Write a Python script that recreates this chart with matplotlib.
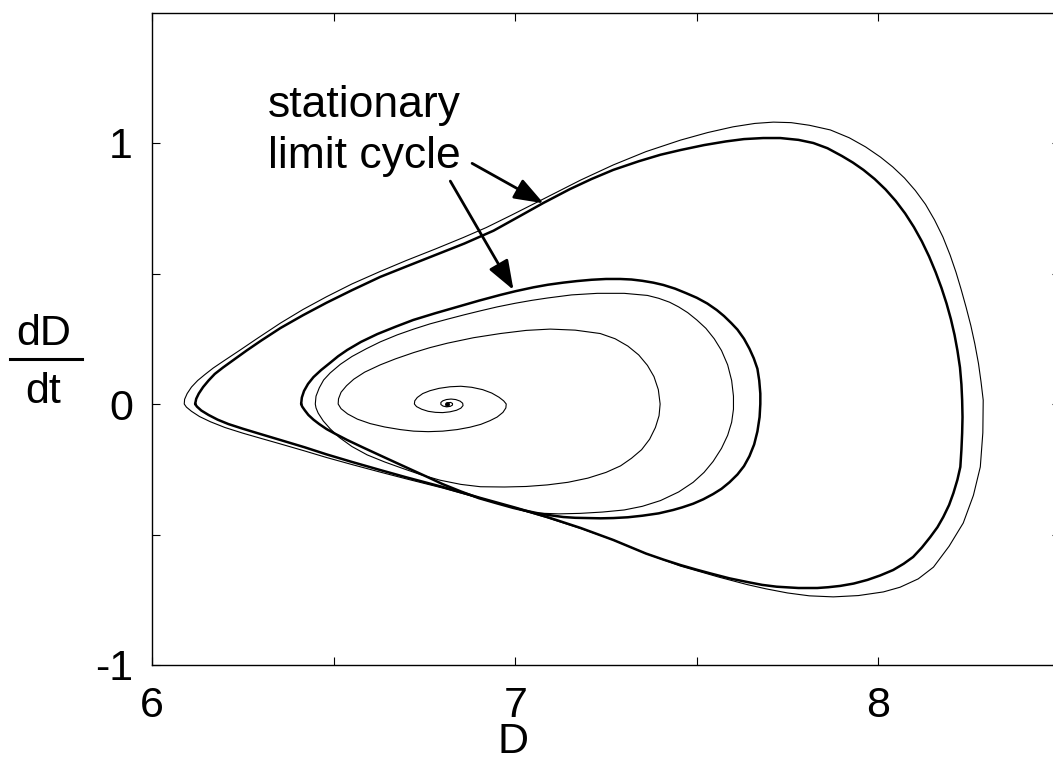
import matplotlib.pyplot as plt
from matplotlib.lines import Line2D

plt.rcParams['font.family'] = ['Liberation Sans', 'DejaVu Sans']

# stationary limit cycle, large amplitude (clockwise from the left tip)
outer_x = [6.118, 6.121, 6.128, 6.140, 6.155, 6.172, 6.195, 6.225, 6.260, 6.300,
           6.353, 6.415, 6.480, 6.550, 6.628, 6.700, 6.780, 6.860, 6.940, 7.010,
           7.077, 7.150, 7.210, 7.270, 7.340, 7.400, 7.455, 7.520, 7.580, 7.630,
           7.683, 7.730, 7.780, 7.821, 7.860, 7.900, 7.930, 7.959, 7.990, 8.020,
           8.048, 8.074, 8.098, 8.120, 8.140, 8.158, 8.174, 8.188, 8.200, 8.210,
           8.218, 8.225, 8.229, 8.231, 8.232, 8.231, 8.229, 8.226, 8.218, 8.207,
           8.195, 8.179, 8.163, 8.143, 8.120, 8.096, 8.070, 8.041, 8.005, 7.970,
           7.932, 7.895, 7.862, 7.832, 7.780, 7.720, 7.680, 7.639, 7.590, 7.540,
           7.500, 7.455, 7.410, 7.360, 7.315, 7.270, 7.180, 7.088, 7.000, 6.904,
           6.800, 6.700, 6.628, 6.550, 6.480, 6.420, 6.353, 6.300, 6.250, 6.210,
           6.180, 6.155, 6.135, 6.123, 6.118]
outer_y = [0.000, 0.020, 0.040, 0.065, 0.090, 0.115, 0.140, 0.170, 0.205, 0.243,
           0.291, 0.340, 0.388, 0.436, 0.487, 0.527, 0.571, 0.615, 0.664, 0.718,
           0.770, 0.823, 0.862, 0.897, 0.930, 0.955, 0.973, 0.992, 1.006, 1.015,
           1.019, 1.019, 1.012, 1.000, 0.980, 0.950, 0.925, 0.897, 0.862, 0.822,
           0.778, 0.730, 0.678, 0.623, 0.565, 0.505, 0.445, 0.385, 0.325, 0.265,
           0.205, 0.140, 0.075, 0.015, -0.050, -0.111, -0.175, -0.241, -0.290, -0.341,
           -0.387, -0.433, -0.472, -0.510, -0.550, -0.586, -0.612, -0.636, -0.657, -0.674,
           -0.688, -0.697, -0.702, -0.705, -0.705, -0.700, -0.693, -0.682, -0.668, -0.650,
           -0.635, -0.617, -0.597, -0.573, -0.547, -0.521, -0.475, -0.433, -0.397, -0.360,
           -0.318, -0.281, -0.253, -0.222, -0.193, -0.166, -0.138, -0.116, -0.095, -0.077,
           -0.060, -0.042, -0.025, -0.010, 0.000]

# first turn before settling on the large cycle
outer_first_x = [7.270, 7.180, 7.088, 7.000, 6.904, 6.800, 6.700, 6.628, 6.550, 6.480,
                 6.420, 6.353, 6.300, 6.250, 6.200, 6.160, 6.130, 6.108, 6.094, 6.088,
                 6.089, 6.096, 6.108, 6.125, 6.145, 6.168, 6.200, 6.240, 6.290, 6.353,
                 6.415, 6.480, 6.550, 6.628, 6.700, 6.780, 6.857, 6.920, 6.990, 7.088,
                 7.180, 7.270, 7.360, 7.455, 7.530, 7.600, 7.660, 7.711, 7.760, 7.810,
                 7.868, 7.920, 7.965, 8.006, 8.040, 8.072, 8.102, 8.130, 8.155, 8.178,
                 8.198, 8.214, 8.228, 8.242, 8.255, 8.266, 8.276, 8.283, 8.289, 8.288,
                 8.281, 8.262, 8.234, 8.195, 8.152, 8.110, 8.060, 8.014, 7.945, 7.876,
                 7.810, 7.750, 7.690, 7.639, 7.560, 7.455, 7.360, 7.270]
outer_first_y = [-0.521, -0.477, -0.436, -0.400, -0.362, -0.322, -0.287, -0.261, -0.232, -0.205,
                 -0.180, -0.153, -0.132, -0.112, -0.090, -0.068, -0.048, -0.028, -0.012, 0.000,
                 0.018, 0.040, 0.065, 0.090, 0.113, 0.138, 0.168, 0.205, 0.252, 0.310,
                 0.362, 0.411, 0.460, 0.508, 0.550, 0.594, 0.638, 0.676, 0.724, 0.793,
                 0.858, 0.916, 0.967, 1.011, 1.040, 1.062, 1.075, 1.080, 1.078, 1.068,
                 1.050, 1.020, 0.985, 0.946, 0.908, 0.866, 0.818, 0.765, 0.705, 0.640,
                 0.570, 0.505, 0.440, 0.370, 0.300, 0.230, 0.155, 0.085, 0.015, -0.110,
                 -0.241, -0.350, -0.456, -0.545, -0.625, -0.670, -0.702, -0.720, -0.734, -0.739,
                 -0.735, -0.724, -0.708, -0.692, -0.663, -0.621, -0.573, -0.521]

# stationary limit cycle, small amplitude
inner_x = [6.410, 6.412, 6.418, 6.429, 6.444, 6.465, 6.490, 6.512, 6.537, 6.575,
           6.620, 6.670, 6.719, 6.780, 6.840, 6.900, 6.959, 7.000, 7.050, 7.090,
           7.132, 7.170, 7.210, 7.250, 7.289, 7.320, 7.350, 7.380, 7.408, 7.440,
           7.470, 7.500, 7.529, 7.555, 7.575, 7.595, 7.612, 7.630, 7.645, 7.657,
           7.667, 7.672, 7.675, 7.675, 7.673, 7.667, 7.658, 7.645, 7.630, 7.612,
           7.590, 7.568, 7.545, 7.518, 7.490, 7.460, 7.435, 7.395, 7.350, 7.310,
           7.270, 7.235, 7.200, 7.165, 7.132, 7.095, 7.060, 7.025, 6.994, 6.950,
           6.900, 6.850, 6.800, 6.760, 6.719, 6.670, 6.620, 6.578, 6.537, 6.505,
           6.480, 6.460, 6.444, 6.430, 6.420, 6.413, 6.410]
inner_y = [0.000, 0.025, 0.050, 0.077, 0.103, 0.130, 0.158, 0.183, 0.207, 0.238,
           0.268, 0.296, 0.322, 0.348, 0.372, 0.396, 0.418, 0.432, 0.447, 0.457,
           0.465, 0.471, 0.476, 0.479, 0.479, 0.477, 0.472, 0.465, 0.456, 0.442,
           0.425, 0.407, 0.385, 0.360, 0.337, 0.310, 0.285, 0.250, 0.212, 0.175,
           0.135, 0.090, 0.040, 0.000, -0.050, -0.105, -0.155, -0.200, -0.238, -0.270,
           -0.300, -0.325, -0.345, -0.365, -0.382, -0.396, -0.406, -0.419, -0.428, -0.434,
           -0.437, -0.438, -0.437, -0.436, -0.433, -0.426, -0.418, -0.408, -0.398, -0.381,
           -0.361, -0.335, -0.307, -0.281, -0.255, -0.224, -0.192, -0.165, -0.138, -0.115,
           -0.096, -0.077, -0.060, -0.042, -0.024, -0.010, 0.000]

# trajectory spiralling out of the fixed point onto the small cycle
spiral_x = [6.812, 6.816, 6.822, 6.827, 6.827, 6.821, 6.811, 6.801, 6.795, 6.795,
            6.800, 6.810, 6.823, 6.836, 6.848, 6.855, 6.856, 6.850, 6.838, 6.820,
            6.800, 6.780, 6.760, 6.742, 6.728, 6.722, 6.723, 6.730, 6.745, 6.765,
            6.790, 6.820, 6.850, 6.880, 6.910, 6.935, 6.955, 6.968, 6.975, 6.974,
            6.966, 6.950, 6.930, 6.905, 6.875, 6.840, 6.800, 6.760, 6.720, 6.683,
            6.640, 6.600, 6.565, 6.538, 6.520, 6.512, 6.513, 6.520, 6.535, 6.555,
            6.585, 6.628, 6.670, 6.720, 6.765, 6.813, 6.885, 6.959, 7.030, 7.096,
            7.165, 7.234, 7.275, 7.310, 7.340, 7.364, 7.382, 7.394, 7.399, 7.396,
            7.386, 7.370, 7.348, 7.320, 7.290, 7.250, 7.200, 7.145, 7.088, 7.030,
            6.970, 6.904, 6.850, 6.793, 6.740, 6.690, 6.640, 6.592, 6.550, 6.515,
            6.490, 6.471, 6.457, 6.451, 6.449, 6.451, 6.460, 6.472, 6.490, 6.518,
            6.550, 6.590, 6.628, 6.675, 6.720, 6.765, 6.813, 6.860, 6.904, 6.950,
            7.000, 7.045, 7.088, 7.155, 7.226, 7.300, 7.364, 7.395, 7.425, 7.450,
            7.475, 7.500, 7.525, 7.548, 7.568, 7.585, 7.596, 7.601, 7.601, 7.596,
            7.585, 7.568, 7.545, 7.520, 7.490, 7.450, 7.400, 7.350, 7.300, 7.240,
            7.179, 7.120, 7.060]
spiral_y = [0.000, 0.005, 0.006, 0.002, -0.004, -0.009, -0.011, -0.008, -0.002, 0.006,
            0.012, 0.017, 0.019, 0.017, 0.011, 0.003, -0.006, -0.016, -0.024, -0.030,
            -0.033, -0.032, -0.028, -0.020, -0.010, 0.000, 0.012, 0.025, 0.040, 0.051,
            0.060, 0.066, 0.068, 0.064, 0.055, 0.042, 0.026, 0.012, 0.000, -0.015,
            -0.032, -0.050, -0.064, -0.078, -0.089, -0.098, -0.104, -0.106, -0.104, -0.098,
            -0.088, -0.075, -0.058, -0.038, -0.018, 0.000, 0.020, 0.045, 0.070, 0.095,
            0.122, 0.150, 0.173, 0.197, 0.216, 0.233, 0.254, 0.270, 0.282, 0.287,
            0.283, 0.270, 0.250, 0.222, 0.188, 0.148, 0.105, 0.055, 0.000, -0.045,
            -0.090, -0.135, -0.175, -0.208, -0.237, -0.262, -0.284, -0.300, -0.310, -0.316,
            -0.318, -0.317, -0.308, -0.292, -0.271, -0.247, -0.222, -0.195, -0.163, -0.128,
            -0.095, -0.065, -0.035, -0.015, 0.000, 0.030, 0.062, 0.092, 0.119, 0.152,
            0.182, 0.212, 0.238, 0.265, 0.287, 0.307, 0.325, 0.342, 0.357, 0.372,
            0.386, 0.397, 0.406, 0.418, 0.424, 0.424, 0.416, 0.405, 0.390, 0.372,
            0.350, 0.322, 0.290, 0.250, 0.205, 0.150, 0.090, 0.030, -0.020, -0.070,
            -0.120, -0.170, -0.220, -0.262, -0.300, -0.337, -0.370, -0.392, -0.406, -0.414,
            -0.419, -0.421, -0.418]

x_ticks = [6, 6.5, 7, 7.5, 8]
x_tick_labels = ['6', '', '7', '', '8']
y_ticks = [-1, -0.5, 0, 0.5, 1]
y_tick_labels = ['-1', '', '0', '', '1']

note_lines = ['stationary', 'limit cycle']
note_x = 6.318
note_baselines = [1.100, 0.904]
# (tail, tip) of the two pointers
arrows = [((6.881, 0.922), (7.078, 0.769)),
          ((6.821, 0.854), (6.995, 0.437))]

fig = plt.figure(figsize=(10.53, 7.75), dpi=100)
ax = fig.add_axes([152.3 / 1053, 110 / 775, 907.5 / 1053, 652.5 / 775])

line_kw = dict(color='k', solid_joinstyle='round', solid_capstyle='round')
ax.plot(outer_first_x, outer_first_y, lw=0.8, **line_kw)
ax.plot(spiral_x, spiral_y, lw=0.8, **line_kw)
ax.plot(spiral_x[:1], spiral_y[:1], 'ko', ms=2.5)
ax.plot(outer_x, outer_y, lw=1.8, **line_kw)
ax.plot(inner_x, inner_y, lw=1.8, **line_kw)

for line, yb in zip(note_lines, note_baselines):
    ax.text(note_x, yb, line, fontsize=32, ha='left', va='baseline')
for tail, tip in arrows:
    ax.annotate('', xy=tip, xytext=tail,
                arrowprops=dict(arrowstyle='-|>,head_length=0.6,head_width=0.22',
                                mutation_scale=30, lw=2, color='k',
                                shrinkA=0, shrinkB=0))

ax.set_xlim(6, 8.5)
ax.set_ylim(-1, 1.5)
ax.set_xticks(x_ticks)
ax.set_xticklabels(x_tick_labels)
ax.set_yticks(y_ticks)
ax.set_yticklabels(y_tick_labels)
ax.tick_params(direction='in', top=True, right=True, length=6, width=0.8,
               labelsize=31)
ax.tick_params(axis='x', pad=15)
ax.tick_params(axis='y', pad=14)
for sp in ax.spines.values():
    sp.set_linewidth(1.0)

ax.set_xlabel('D', fontsize=31)
ax.xaxis.set_label_coords(0.398, -0.088)

# dD/dt written as a stacked fraction
fig.text(44 / 1053, 1 - 345 / 775, 'dD', fontsize=31, ha='center', va='baseline')
fig.text(43 / 1053, 1 - 403 / 775, 'dt', fontsize=31, ha='center', va='baseline')
fig.add_artist(Line2D([10 / 1053, 82 / 1053], [1 - 359 / 775, 1 - 359 / 775],
                      color='k', lw=2.2))

fig.savefig('out.png', dpi=100)
